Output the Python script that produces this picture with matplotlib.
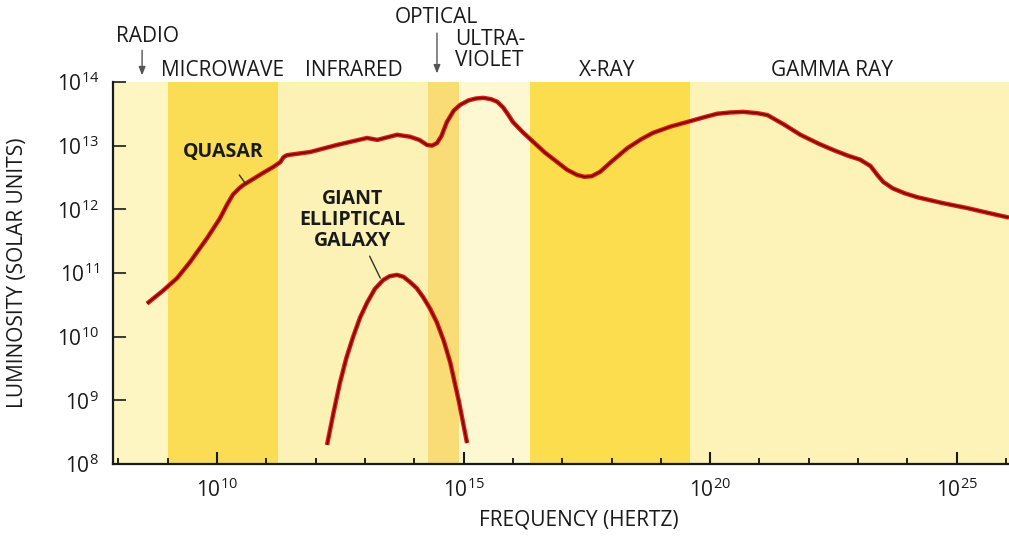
import numpy as np
import matplotlib.pyplot as plt

plt.rcParams['font.family'] = ['Open Sans', 'DejaVu Sans']
plt.rcParams['mathtext.fontset'] = 'custom'
plt.rcParams['mathtext.rm'] = 'Open Sans'

# quasar spectrum: log10 frequency (Hz), log10 luminosity (solar units)
quasar_logf = [8.58, 8.90, 9.19, 9.45, 9.80, 10.06, 10.20, 10.32, 10.45, 10.53,
               10.93, 11.15, 11.28, 11.35, 11.42, 11.89, 12.43, 13.04, 13.25,
               13.65, 13.91, 14.10, 14.26, 14.36, 14.46, 14.55, 14.66, 14.80,
               14.93, 15.10, 15.25, 15.40, 15.55, 15.68, 15.80, 15.90, 16.00,
               16.20, 16.41, 16.65, 16.90, 17.10, 17.30, 17.45, 17.60, 17.77,
               18.00, 18.32, 18.60, 18.84, 19.20, 19.53, 19.85, 20.14, 20.40,
               20.67, 20.95, 21.16, 21.50, 21.83, 22.20, 22.50, 22.80, 23.04,
               23.25, 23.40, 23.51, 23.70, 23.95, 24.20, 24.70, 25.21, 25.60,
               26.06]
quasar_logl = [10.52, 10.72, 10.92, 11.17, 11.55, 11.86, 12.07, 12.23, 12.33, 12.38,
               12.57, 12.67, 12.74, 12.82, 12.85, 12.90, 13.01, 13.12, 13.09,
               13.17, 13.14, 13.09, 13.01, 13.00, 13.04, 13.15, 13.37, 13.55,
               13.64, 13.71, 13.74, 13.75, 13.73, 13.69, 13.60, 13.49, 13.37,
               13.21, 13.06, 12.89, 12.74, 12.62, 12.54, 12.51, 12.52, 12.59,
               12.75, 12.96, 13.10, 13.20, 13.30, 13.37, 13.44, 13.50, 13.52,
               13.53, 13.51, 13.48, 13.33, 13.17, 13.03, 12.93, 12.84, 12.78,
               12.68, 12.53, 12.43, 12.33, 12.25, 12.19, 12.10, 12.02, 11.95,
               11.87]

# giant elliptical galaxy spectrum
galaxy_logf = [12.23, 12.36, 12.49, 12.62, 12.76, 12.90, 13.04, 13.20, 13.37,
               13.50, 13.65, 13.78, 13.91, 14.05, 14.18, 14.32, 14.46, 14.60,
               14.73, 14.90, 15.07]
galaxy_logl = [8.30, 8.80, 9.27, 9.66, 10.00, 10.30, 10.53, 10.75, 10.89,
               10.95, 10.97, 10.94, 10.86, 10.76, 10.62, 10.44, 10.22, 9.93,
               9.59, 9.00, 8.33]

# background bands (log10 frequency edges) and their colours
band_edges = [7.89, 9.0, 11.24, 14.28, 14.9, 16.35, 19.6, 26.06]
band_colors = ['#fdf5c2', '#fadd55', '#fdf2b6', '#f9dc76', '#fef8d2',
               '#fbdd4e', '#fdf2b8']

x_ticks = [10, 15, 20, 25]
y_ticks = [8, 9, 10, 11, 12, 13, 14]

fig = plt.figure(figsize=(10.09, 5.39), dpi=100)
ax = fig.add_axes([0.112, 0.139, 0.888, 0.709])
ax.set_xscale('log')
ax.set_yscale('log')
ax.set_xlim(10 ** band_edges[0], 10 ** band_edges[-1])
ax.set_ylim(1e8, 1e14)

for lo, hi, c in zip(band_edges[:-1], band_edges[1:], band_colors):
    ax.axvspan(10 ** lo, 10 ** hi, color=c, lw=0, zorder=0)

qf = 10 ** np.array(quasar_logf)
ql = 10 ** np.array(quasar_logl)
gf = 10 ** np.array(galaxy_logf)
gl = 10 ** np.array(galaxy_logl)
for f, l in [(qf, ql), (gf, gl)]:
    ax.plot(f, l, color='#d91e10', lw=3.2, solid_capstyle='butt',
            solid_joinstyle='round', zorder=3)
    ax.plot(f, l, color='#7a0905', lw=1.3, solid_capstyle='butt',
            solid_joinstyle='round', zorder=4)

# axes styling
for s in ['top', 'right']:
    ax.spines[s].set_visible(False)
for s in ['left', 'bottom']:
    ax.spines[s].set_linewidth(1.6)
    ax.spines[s].set_color('#1a1a1a')

ax.set_xticks([10.0 ** v for v in x_ticks])
ax.set_xticklabels([r'$\mathregular{10^{%d}}$' % v for v in x_ticks])
ax.set_xticks([10.0 ** v for v in range(8, 27) if v not in x_ticks], minor=True)
ax.set_xticklabels([], minor=True)
ax.set_yticks([10.0 ** v for v in y_ticks])
ax.set_yticklabels([r'$\mathregular{10^{%d}}$' % v for v in y_ticks])
ax.set_yticks([], minor=True)
ax.tick_params(axis='x', which='major', direction='in', length=9, width=1.5,
               pad=10, labelsize=15, colors='#1a1a1a')
ax.tick_params(axis='x', which='minor', direction='in', length=4, width=1.2)
ax.tick_params(axis='y', which='major', direction='in', length=9, width=1.2,
               pad=10, labelsize=15, colors='#1a1a1a')

ax.set_xlabel('FREQUENCY (HERTZ)', fontsize=15, color='#1a1a1a')
ax.set_ylabel('LUMINOSITY (SOLAR UNITS)', fontsize=15, color='#1a1a1a')
ax.xaxis.set_label_coords(0.52, -0.12)
ax.yaxis.set_label_coords(-0.095, 0.5)

# region labels above the plot
trans = ax.get_xaxis_transform()
lab_kw = dict(transform=trans, fontsize=15, color='#1a1a1a', va='center',
              clip_on=False)
ax.text(10 ** 8.58, 1.118, 'RADIO', ha='center', **lab_kw)
ax.text(10 ** 10.12, 1.031, 'MICROWAVE', ha='center', **lab_kw)
ax.text(10 ** 12.78, 1.031, 'INFRARED', ha='center', **lab_kw)
ax.text(10 ** 14.44, 1.168, 'OPTICAL', ha='center', **lab_kw)
ax.text(10 ** 14.83, 1.084, 'ULTRA-\nVIOLET', ha='left', linespacing=1.0, **lab_kw)
ax.text(10 ** 17.91, 1.031, 'X-RAY', ha='center', **lab_kw)
ax.text(10 ** 22.47, 1.031, 'GAMMA RAY', ha='center', **lab_kw)

arrow_kw = dict(arrowstyle='-|>,head_length=0.5,head_width=0.2', color='#555555', lw=1.0)
ax.annotate('', xy=(10 ** 8.48, 1.01), xytext=(10 ** 8.48, 1.09),
            xycoords=trans, textcoords=trans, arrowprops=arrow_kw)
ax.annotate('', xy=(10 ** 14.46, 1.015), xytext=(10 ** 14.46, 1.135),
            xycoords=trans, textcoords=trans, arrowprops=arrow_kw)

# curve labels
ax.annotate('QUASAR', xy=(10 ** 10.57, 10 ** 12.41), xytext=(10 ** 10.12, 10 ** 12.90),
            ha='center', va='center', fontsize=14, fontweight='bold', color='#1a1a1a',
            arrowprops=dict(arrowstyle='-', color='#333333', lw=1.0,
                            shrinkA=9, shrinkB=0))
ax.annotate('GIANT\nELLIPTICAL\nGALAXY', xy=(10 ** 13.31, 10 ** 10.92),
            xytext=(10 ** 12.74, 10 ** 11.83), ha='center', va='center',
            fontsize=14, fontweight='bold', color='#1a1a1a', linespacing=1.05,
            arrowprops=dict(arrowstyle='-', color='#333333', lw=1.0,
                            shrinkA=2, shrinkB=0))

fig.savefig('out.png', dpi=100)
